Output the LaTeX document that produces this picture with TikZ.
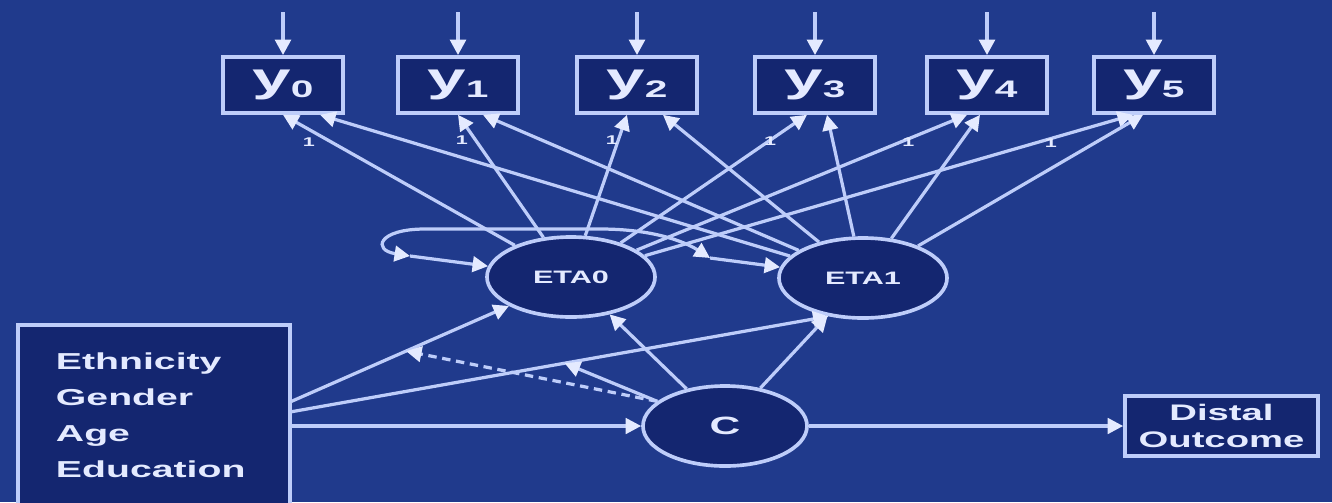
\documentclass[tikz,border=0pt]{standalone}
\usepackage{fontspec}
\setmainfont{Liberation Sans}[FakeStretch=1.7]
\usetikzlibrary{arrows.meta,shapes.geometric,calc}
\definecolor{bgblue}{RGB}{32,58,140}
\definecolor{deepnavy}{RGB}{20,38,112}
\definecolor{pale}{RGB}{190,205,250}
\definecolor{ink}{RGB}{228,234,255}
\tikzset{>/.tip={Triangle[length=11pt,width=11pt,color=ink]},
  obs/.style={draw=pale, fill=deepnavy, line width=2.6pt, minimum width=3cm, minimum height=1.4cm, inner sep=0pt, text=ink, font=\bfseries\fontsize{29}{29}\selectfont},
  lat/.style={ellipse, draw=pale, fill=deepnavy, line width=2.6pt, minimum width=4.2cm, minimum height=2cm, inner sep=0pt, text=ink},
  conn/.style={draw=pale, line width=2.3pt},
  lbl/.style={text=ink, font=\bfseries\fontsize{9}{9}\selectfont, inner sep=1pt}}
\newcommand{\ysub}[1]{y\raisebox{-4pt}{\fontsize{17}{17}\selectfont #1}}

\begin{document}
\begin{tikzpicture}[x=0.025cm, y=-0.025cm]
\useasboundingbox (0,0) rectangle (1332,502);
\fill[bgblue] (0,0) rectangle (1332,502);
\clip (0,0) rectangle (1332,502);

\node[obs] (y0) at (283,85)  {\ysub{0}};
\node[obs] (y1) at (458,85)  {\ysub{1}};
\node[obs] (y2) at (637,85)  {\ysub{2}};
\node[obs] (y3) at (815,85)  {\ysub{3}};
\node[obs] (y4) at (987,85)  {\ysub{4}};
\node[obs] (y5) at (1154,85) {\ysub{5}};

\node[lat] (eta0) at (571,277) {\bfseries\fontsize{12.8}{13}\selectfont ETA0};
\node[lat] (eta1) at (863,278) {\bfseries\fontsize{12.8}{13}\selectfont ETA1};
\node[lat, minimum width=4.1cm] (c) at (725,426) {\bfseries\fontsize{17.8}{18}\selectfont C};

\node[obs, minimum width=6.8cm, minimum height=4.525cm, text width=4.9cm, inner xsep=0.95cm, align=left,
  font=\bfseries\fontsize{16.4}{25.6}\selectfont] (xbox) at (154,415.5)
  {Ethnicity\\Gender\\Age\\Education};
\node[obs, minimum width=4.825cm, minimum height=1.5cm, align=center,
  font=\bfseries\fontsize{16}{19.2}\selectfont] (distal) at (1221.5,426) {Distal\\Outcome};

\foreach \i/\x in {0/283,1/458,2/637,3/815,4/987,5/1154}
{
  \coordinate (t\i) at (\x,12);
  \draw[conn,->,line width=2.8pt] (t\i) -- (y\i);
}

\foreach \i/\a/\b in {0/0/37,1/0/25,2/-10/26,3/-8/12,4/-20/-7,5/-21/-11}
{
  \draw[conn,->] (eta0) -- node[lbl,pos=0.85,below left] {1} ($(y\i.south)+(\a,0)$);
  \draw[conn,->] (eta1) -- ($(y\i.south)+(\b,0)$);
}

\coordinate (r0) at (410,256);
\coordinate (r1) at (710,258);
\draw[conn,->] (r0) -- (eta0);
\draw[conn,->] (r1) -- (eta1);
\draw[conn,<->] (r0) .. controls (372,250) and (378,229) .. (425,229) -- (600,229)
  .. controls (660,229) and (690,245) .. (r1);

\coordinate (xa) at (290,402);
\coordinate (xb) at (290,412);
\draw[conn,->] (xa) -- coordinate[pos=0.53] (ma) (eta0.205);
\draw[conn,->] (xb) -- coordinate[pos=0.51] (mb) (eta1.228);
\draw[conn,->] (xbox.east |- c) -- (c);
\draw[conn,->] (c) -- (distal);
\draw[conn,->] (c) -- (eta0);
\draw[conn,->] (c) -- (eta1);
\draw[conn,->,dash pattern=on 6pt off 4pt] (c.160) -- (ma);
\draw[conn,->] (c.160) -- (mb);
\end{tikzpicture}
\end{document}
